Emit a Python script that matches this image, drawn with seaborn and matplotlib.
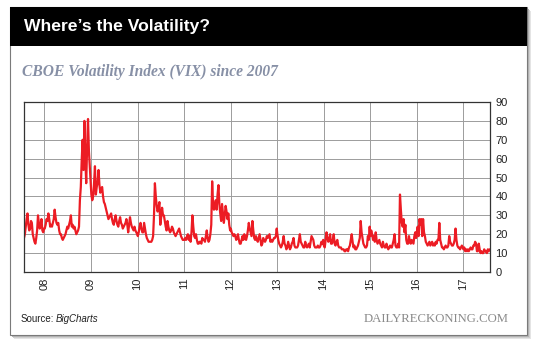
import numpy as np
import pandas as pd
import matplotlib
matplotlib.use("Agg")
import matplotlib.pyplot as plt
import seaborn as sns
from matplotlib.patches import Rectangle

# ---------------- data (weekly VIX closes) ----------------
vix_2007 = [18, 20, 24, 28, 31, 25, 22, 23, 27, 26, 20, 18, 16, 15, 18, 22, 30, 26, 23, 25, 28, 22, 21, 23]
vix_2008 = [23, 25, 28, 27, 31, 28, 24, 25, 24, 26, 28, 33, 29, 26, 25, 26, 22, 20, 20, 18, 17, 18, 19, 20, 22, 24,
            23, 25, 27, 30, 24, 25, 23, 24, 22, 20, 21, 22, 24, 38, 45, 59, 70, 54, 80, 60, 47, 66, 81, 64, 55, 47]
vix_2009 = [41, 38, 40, 47, 56, 41, 45, 48, 54, 46, 42, 44, 45, 40, 37, 36, 34, 32, 30, 28, 29, 30, 31, 28, 26, 25,
            28, 30, 27, 25, 24, 27, 29, 26, 25, 23, 24, 25, 26, 28, 25, 21, 25, 29, 26, 24, 23, 22, 24, 22, 21, 20]
vix_2010 = [19, 21, 24, 26, 23, 21, 21, 26, 23, 20, 18, 17, 16, 16, 16, 16, 17, 19, 30, 47, 40, 35, 32, 34, 37, 25,
            29, 34, 30, 30, 27, 24, 22, 27, 24, 22, 21, 22, 24, 23, 21, 20, 19, 20, 21, 22, 23, 21, 19, 18, 17, 17]
vix_2011 = [17, 18, 17, 19, 20, 17, 19, 16, 21, 30, 24, 19, 18, 20, 17, 15, 15, 16, 16, 15, 18, 17, 17, 16, 19, 22,
            18, 16, 17, 20, 25, 48, 36, 33, 35, 38, 33, 41, 46, 36, 31, 27, 36, 31, 26, 30, 35, 32, 28, 31, 25, 22]
vix_2012 = [23, 21, 20, 19, 20, 19, 17, 18, 20, 17, 15, 15, 17, 19, 17, 20, 18, 17, 19, 22, 26, 23, 21, 19, 27, 22,
            18, 17, 19, 17, 16, 18, 20, 17, 14, 15, 18, 17, 16, 17, 19, 18, 19, 20, 16, 17, 16, 17, 18, 18, 19, 23]
vix_2013 = [20, 17, 15, 14, 13, 14, 16, 19, 15, 14, 12, 13, 16, 14, 12, 13, 15, 16, 18, 14, 13, 13, 13, 14, 17, 20,
            16, 15, 14, 13, 13, 16, 14, 13, 14, 15, 13, 16, 19, 18, 17, 14, 13, 13, 13, 14, 13, 13, 14, 16, 15, 17]
vix_2014 = [14, 13, 17, 21, 18, 16, 17, 20, 15, 15, 17, 20, 15, 14, 16, 17, 14, 13, 13, 13, 12, 12, 12, 11, 11, 12,
            12, 11, 13, 14, 17, 20, 16, 13, 14, 12, 12, 13, 14, 16, 18, 27, 21, 18, 15, 14, 13, 13, 14, 19, 17, 24]
vix_2015 = [19, 22, 20, 17, 19, 16, 21, 17, 15, 16, 17, 15, 14, 13, 16, 14, 13, 13, 15, 13, 12, 13, 14, 13, 13, 15,
            17, 20, 14, 13, 13, 15, 13, 41, 33, 26, 24, 28, 21, 25, 17, 15, 15, 19, 16, 15, 17, 16, 15, 19, 21, 18]
vix_2016 = [21, 24, 19, 28, 25, 28, 19, 28, 21, 19, 16, 15, 14, 15, 16, 14, 15, 16, 14, 15, 14, 16, 15, 17, 17, 26,
            17, 15, 13, 13, 12, 13, 14, 13, 13, 14, 19, 16, 15, 14, 14, 15, 17, 23, 17, 14, 13, 13, 12, 13, 14, 13]
vix_2017 = [12, 13, 11, 12, 11, 12, 11, 12, 13, 12, 12, 14, 14, 16, 15, 11, 11, 15, 12, 10, 11, 10, 10, 12, 11, 11,
            10, 12, 11, 12]

series_by_year = {2007: vix_2007, 2008: vix_2008, 2009: vix_2009, 2010: vix_2010, 2011: vix_2011,
                  2012: vix_2012, 2013: vix_2013, 2014: vix_2014, 2015: vix_2015, 2016: vix_2016,
                  2017: vix_2017}
tick_years = [2008, 2009, 2010, 2011, 2012, 2013, 2014, 2015, 2016, 2017]
tick_labels = ["08", "09", "10", "11", "12", "13", "14", "15", "16", "17"]
y_ticks = [0, 10, 20, 30, 40, 50, 60, 70, 80, 90]

title = "Where\u2019s the Volatility?"
subtitle = "CBOE Volatility Index (VIX) since 2007"
source_label = "Source:"
source_name = "BigCharts"
brand = "DAILYRECKONING.COM"

first_day = pd.Timestamp("2007-07-24")
last_day = pd.Timestamp("2017-07-28")


def year_dates(year, n):
    start = first_day if year == 2007 else pd.Timestamp(f"{year}-01-03")
    end = last_day if year == 2017 else pd.Timestamp(f"{year}-12-29")
    return pd.to_datetime(np.linspace(start.value, end.value, n).astype("int64"))


frames = []
for yr, vals in series_by_year.items():
    frames.append(pd.DataFrame({"date": year_dates(yr, len(vals)), "vix": vals}))
df = pd.concat(frames, ignore_index=True)

# ---------------- figure ----------------
sns.set_theme(style="white")
plt.rcParams["font.family"] = ["Liberation Sans", "DejaVu Sans"]

W, H = 540, 346
fig = plt.figure(figsize=(W / 100, H / 100), dpi=100)
fig.patch.set_facecolor("white")


def fx(x):
    return x / W


def fy(y):
    return 1 - y / H


# card shadow + card + header
for off, col in [(4, "#e4e4e4"), (3, "#cfcfcf"), (2, "#b5b5b5")]:
    fig.patches.append(Rectangle((fx(10 + off), fy(335 + off)), 517 / W, 328 / H,
                                 transform=fig.transFigure, facecolor=col, edgecolor="none", zorder=0))
fig.patches.append(Rectangle((fx(10), fy(335)), 517 / W, 328 / H, transform=fig.transFigure,
                             facecolor="white", edgecolor="#7a7a7a", lw=0.8, zorder=1))
fig.patches.append(Rectangle((fx(10), fy(46)), 517 / W, 39 / H, transform=fig.transFigure,
                             facecolor="black", edgecolor="none", zorder=2))

fig.text(fx(24), fy(27), title, color="white", fontsize=12.6, fontweight="bold",
         family=["Liberation Sans", "DejaVu Sans"], va="center", ha="left", zorder=3)
fig.text(fx(22), fy(72), subtitle, color="#8790a6", fontsize=11.2, fontweight="bold", style="italic",
         family=["Liberation Serif", "DejaVu Serif"], va="center", ha="left", zorder=3)

ax = fig.add_axes([fx(24), fy(272), 466 / W, 170 / H], zorder=3)
ax.set_facecolor("white")
sns.lineplot(data=df, x="date", y="vix", ax=ax, color="#ec1c24", linewidth=1.6)

ax.set_xlim(first_day, pd.Timestamp("2017-07-31"))
ax.set_ylim(0, 90)
ax.set_yticks(y_ticks)
ax.set_yticklabels([str(v) for v in y_ticks])
ax.yaxis.tick_right()
ax.set_xticks([pd.Timestamp(f"{y}-01-01") for y in tick_years])
ax.set_xticklabels(tick_labels, rotation=90)
ax.tick_params(axis="both", length=0, labelsize=8, colors="#222222")
ax.tick_params(axis="y", pad=4)
ax.tick_params(axis="x", pad=4)
ax.set_xlabel("")
ax.set_ylabel("")
ax.grid(True, color="#9c9c9c", linewidth=0.7)
ax.set_axisbelow(True)
for sp in ax.spines.values():
    sp.set_color("#333333")
    sp.set_linewidth(0.9)

src = fig.text(fx(21), fy(319), source_label, fontsize=7, color="#222222", va="center", ha="left", zorder=3)
fig.canvas.draw()
bb = src.get_window_extent(renderer=fig.canvas.get_renderer())
fig.text((bb.x1 + 1.5) / W, fy(319), source_name, fontsize=7, style="italic", color="#222222",
         va="center", ha="left", zorder=3)
fig.text(fx(509), fy(319), brand, fontsize=9.2, color="#8a8a8a", family=["Liberation Serif", "DejaVu Serif"],
         va="center", ha="right", zorder=3)

fig.savefig("out.png", dpi=100)
